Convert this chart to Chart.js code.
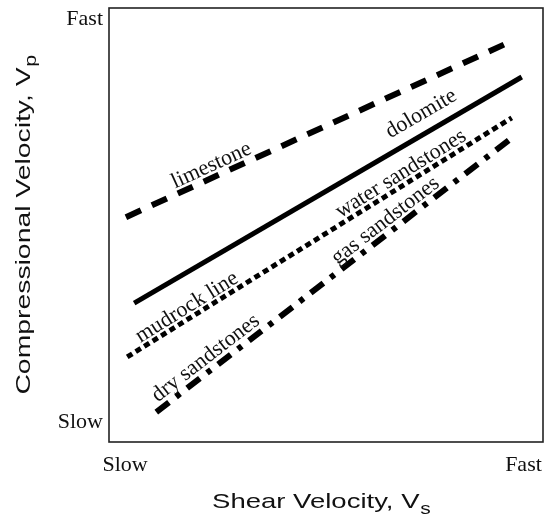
<!DOCTYPE html>
<html>
<head>
<meta charset="utf-8">
<title>Vp vs Vs trends</title>
<script src="https://cdn.jsdelivr.net/npm/chart.js@4.4.1/dist/chart.umd.min.js"></script>
<style>
  html, body { margin: 0; padding: 0; background: #fff; }
  #wrap { width: 547px; height: 521px; }
</style>
</head>
<body>
<div id="wrap"><canvas id="chart" width="547" height="521"></canvas></div>
<script>
// rock trend lines (0 = slow, 100 = fast)
const lineNames = ['limestone', 'dolomite', 'mudrock line', 'dry sandstones'];
const startVs = [3.9, 5.8, 4.2, 10.9];
const startVp = [51.8, 32.0, 19.6, 6.9];
const endVs = [92.4, 95.1, 92.8, 93.1];
const endVp = [92.2, 84.1, 74.7, 70.3];

const xTickLabels = ['Slow', 'Fast'];
const xTickValues = [3.7, 95.5];
const yTickLabels = ['Slow', 'Fast'];
const yTickValues = [4.6, 97.5];

// text written along the lines
const lineLabels = ['limestone', 'dolomite', 'water sandstones', 'mudrock line', 'gas sandstones', 'dry sandstones'];
const labelOnLine = [0, 1, 2, 2, 3, 3];

// where each label sits: fraction along its line, gap above it (px)
const labelAlong = [0.235, 0.765, 0.727, 0.17, 0.662, 0.16];
const labelGap = [11.5, 18.8, 11, 10.5, 11.5, 12.5];

const lineDashes = [[16.5, 12], [], [6, 4], [16, 9, 5, 9]];
const lineWidths = [6, 5, 5, 6];

const ctx = document.getElementById('chart');

const datasets = lineNames.map((name, i) => ({
  label: name,
  data: [
    { x: startVs[i], y: startVp[i] },
    { x: endVs[i], y: endVp[i] },
  ],
  borderColor: '#000',
  borderWidth: lineWidths[i],
  borderDash: lineDashes[i],
  borderCapStyle: 'butt',
  pointRadius: 0,
  fill: false,
  tension: 0,
}));

const frame = {
  id: 'frame',
  afterDraw(chart) {
    const { ctx, chartArea } = chart;
    ctx.save();
    ctx.strokeStyle = '#222';
    ctx.lineWidth = 1.6;
    ctx.strokeRect(chartArea.left, chartArea.top, chartArea.width, chartArea.height);
    ctx.restore();
  },
};

const labelsOnLines = {
  id: 'labelsOnLines',
  afterDatasetsDraw(chart) {
    const { ctx, scales } = chart;
    ctx.save();
    ctx.fillStyle = '#111';
    ctx.font = '22px "Liberation Serif", "Times New Roman", serif';
    ctx.textAlign = 'center';
    ctx.textBaseline = 'middle';
    lineLabels.forEach((text, k) => {
      const i = labelOnLine[k];
      const x1 = scales.x.getPixelForValue(startVs[i]);
      const y1 = scales.y.getPixelForValue(startVp[i]);
      const x2 = scales.x.getPixelForValue(endVs[i]);
      const y2 = scales.y.getPixelForValue(endVp[i]);
      const angle = Math.atan2(y2 - y1, x2 - x1);
      const t = labelAlong[k];
      const px = x1 + (x2 - x1) * t + Math.sin(angle) * labelGap[k];
      const py = y1 + (y2 - y1) * t - Math.cos(angle) * labelGap[k];
      ctx.save();
      ctx.translate(px, py);
      ctx.rotate(angle);
      ctx.fillText(text, 0, 0);
      ctx.restore();
    });
    ctx.restore();
  },
};

function drawTitle(ctx, main, sub, x, y, rot, stretch) {
  const mainFont = '21px "Liberation Sans", Arial, sans-serif';
  const subFont = '16px "Liberation Sans", Arial, sans-serif';
  ctx.save();
  ctx.translate(x, y);
  ctx.rotate(rot);
  ctx.scale(stretch, 1);
  ctx.fillStyle = '#111';
  ctx.textAlign = 'left';
  ctx.textBaseline = 'alphabetic';
  ctx.font = mainFont;
  const w1 = ctx.measureText(main).width;
  ctx.font = subFont;
  const w2 = ctx.measureText(sub).width;
  const start = -(w1 + w2) / 2;
  ctx.font = mainFont;
  ctx.fillText(main, start, 0);
  ctx.font = subFont;
  ctx.fillText(sub, start + w1 + 0.5, 6);
  ctx.restore();
}

const axisTitles = {
  id: 'axisTitles',
  afterDraw(chart) {
    const { ctx, chartArea } = chart;
    const cx = (chartArea.left + chartArea.right) / 2 - 5;
    const cy = (chartArea.top + chartArea.bottom) / 2;
    drawTitle(ctx, 'Shear Velocity, V', 's', cx, 508, 0, 1.31);
    drawTitle(ctx, 'Compressional Velocity, V', 'p', 30, cy, -Math.PI / 2, 1.35);
  },
};

const tickFont = { family: '"Liberation Serif", "Times New Roman", serif', size: 22 };

new Chart(ctx, {
  type: 'line',
  data: { datasets },
  plugins: [frame, labelsOnLines, axisTitles],
  options: {
    responsive: false,
    animation: false,
    devicePixelRatio: 1,
    layout: { padding: { top: 8, right: 4, left: 0, bottom: 0 } },
    plugins: {
      legend: { display: false },
      tooltip: { enabled: false },
    },
    scales: {
      x: {
        type: 'linear',
        min: 0,
        max: 100,
        grid: { display: false, drawTicks: false },
        border: { display: false },
        afterBuildTicks: (scale) => {
          scale.ticks = xTickValues.map((v) => ({ value: v }));
        },
        afterFit: (scale) => {
          scale.height = 79;
          scale.paddingLeft = 0;
          scale.paddingRight = 0;
        },
        ticks: {
          color: '#111',
          font: tickFont,
          padding: 10,
          maxRotation: 0,
          autoSkip: false,
          callback: (value, index) => xTickLabels[index],
        },
      },
      y: {
        type: 'linear',
        min: 0,
        max: 100,
        grid: { display: false, drawTicks: false },
        border: { display: false },
        afterBuildTicks: (scale) => {
          scale.ticks = yTickValues.map((v) => ({ value: v }));
        },
        afterFit: (scale) => {
          scale.width = 109;
          scale.paddingTop = 0;
          scale.paddingBottom = 0;
        },
        ticks: {
          color: '#111',
          font: tickFont,
          padding: 6,
          autoSkip: false,
          callback: (value, index) => yTickLabels[index],
        },
      },
    },
  },
});
</script>
</body>
</html>
